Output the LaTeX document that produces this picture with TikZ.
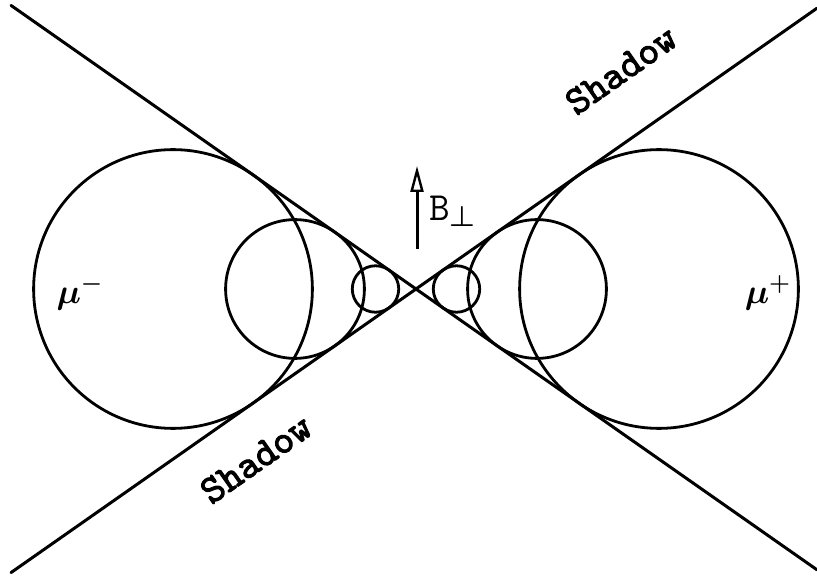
\documentclass[tikz,border=0pt]{standalone}
\usepackage{amsmath}
\usepackage{fontspec}
\newfontfamily\shadowfont{lmmono10-regular.otf}[FakeBold=2.5]
\usetikzlibrary{arrows.meta,calc,positioning}

\begin{document}
\begin{tikzpicture}[
  x=0.5pt,y=0.5pt,
  edge/.style={line width=1.5pt,line cap=round},
  orbit/.style={line width=1.4pt},
  shadowtext/.style={font=\shadowfont\fontsize{20}{21}\selectfont,rotate=35},
  charge/.style={font=\boldmath\fontsize{17}{18}\selectfont},
  field/.style={-{Triangle[open,length=13pt,width=6.5pt,line width=1.2pt]},line width=1.5pt},
]
\useasboundingbox (-416,-288) rectangle (401,289);
\coordinate (O) at (0,0);
\coordinate (ul) at (-405,283.6);
\coordinate (lr) at (401,-280.8);
\coordinate (ll) at (-405,-283.6);
\coordinate (ur) at (401,280.8);

% the two shadow edges
\draw[edge] (ul) -- (lr);
\draw[edge] (ll) -- (ur);

% orbits touching both edges
\foreach \d in {40.5,121,243}{
  \draw[orbit] (-\d,0) circle ({\d*sin(35)});
  \draw[orbit] (\d,0) circle ({\d*sin(35)});
}

\node[charge] (mum) at (-336,-4) {$\mu^-$};
\node[charge] (mup) at (352,-4) {$\mu^+$};

\coordinate (Bfoot) at (1,40);
\coordinate (Btip) at (1,123);
\draw[field] (Bfoot) -- (Btip);
\node[font=\ttfamily\fontsize{20}{22}\selectfont,anchor=west] (B) at (6,78) {B$_{\boldsymbol{\perp}}$};

\node[shadowtext] (shadowup) at (205,219) {Shadow};
\node[shadowtext] (shadowdown) at (-160,-170) {Shadow};
\end{tikzpicture}
\end{document}
